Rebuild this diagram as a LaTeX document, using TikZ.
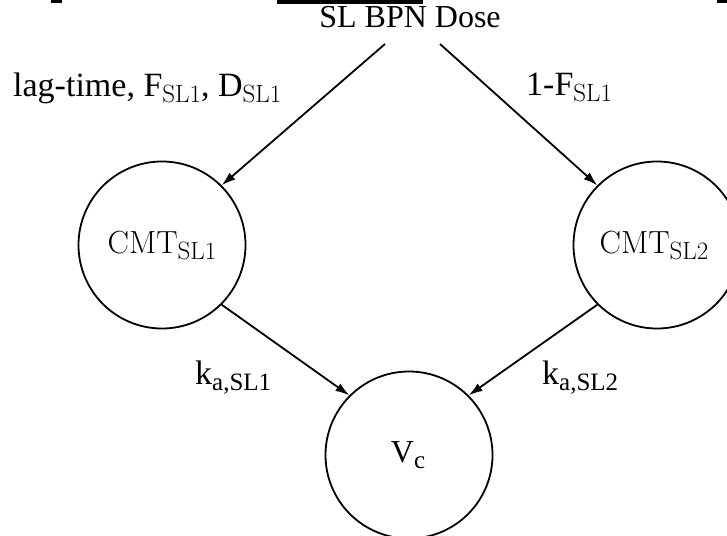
\documentclass[tikz,border=0pt]{standalone}
\usepackage[no-math]{fontspec}
\setmainfont{Liberation Serif}
\usetikzlibrary{arrows.meta}
\newcommand\cmfont{\fontfamily{lmr}\selectfont}
% lowered subscript at a fixed size
\newcommand\lo[1]{\raisebox{-6.5pt}{\fontsize{25}{25}\selectfont #1}}

\begin{document}
\begin{tikzpicture}[x=1pt,y=-1pt,
  comp/.style={circle, draw, line width=1.8pt, minimum size=167pt, inner sep=0pt},
  lbl/.style={inner sep=0pt, font=\fontsize{34}{40}\selectfont},
  flow/.style={line width=1.8pt, -{Latex[length=14pt,width=9pt]}}
]
\useasboundingbox (0,0) rectangle (727,535);

% cut-off strokes of the line above
\fill (277,0) rectangle (423,4);
\fill (51,0) rectangle (62,3);
\fill (717,0) rectangle (727,3);

% compartments
\node[comp] (cmt1) at (162,245) {};
\node[comp] (cmt2) at (657,245) {};
\node[comp] (vc)   at (409,455) {};
\node[lbl, anchor=base, font=\fontsize{32}{40}\selectfont] (t1) at (162,253) {\cmfont CMT\lo{SL1}};
\node[lbl, anchor=base, font=\fontsize{32}{40}\selectfont] (t2) at (654,253) {\cmfont CMT\lo{SL2}};
\node[lbl, anchor=base, font=\fontsize{32}{40}\selectfont] (t3) at (408,462) {V\lo{c}};

% dose and labels
\node[lbl, anchor=base, font=\fontsize{32}{38}\selectfont] (dose) at (410,28) {SL BPN Dose};
\node[lbl, anchor=base west] (l1) at (13,96) {lag-time, F\lo{\cmfont SL1}, D\lo{\cmfont SL1}};
\node[lbl, anchor=base west] (l2) at (526,95) {1-F\lo{\cmfont SL1}};
\node[lbl, anchor=base west] (k1) at (195,384) {k\lo{a,SL1}};
\node[lbl, anchor=base west] (k2) at (542,384) {k\lo{a,SL2}};

% arrow origins below the dose
\coordinate (dl) at (385,44);
\coordinate (dr) at (440,44);

\draw[flow] (dl) -- (cmt1.45);
\draw[flow] (dr) -- (cmt2.135);
\draw[flow] (cmt1.-45) -- (vc.135);
\draw[flow] (cmt2.-135) -- (vc.45);
\end{tikzpicture}
\end{document}
